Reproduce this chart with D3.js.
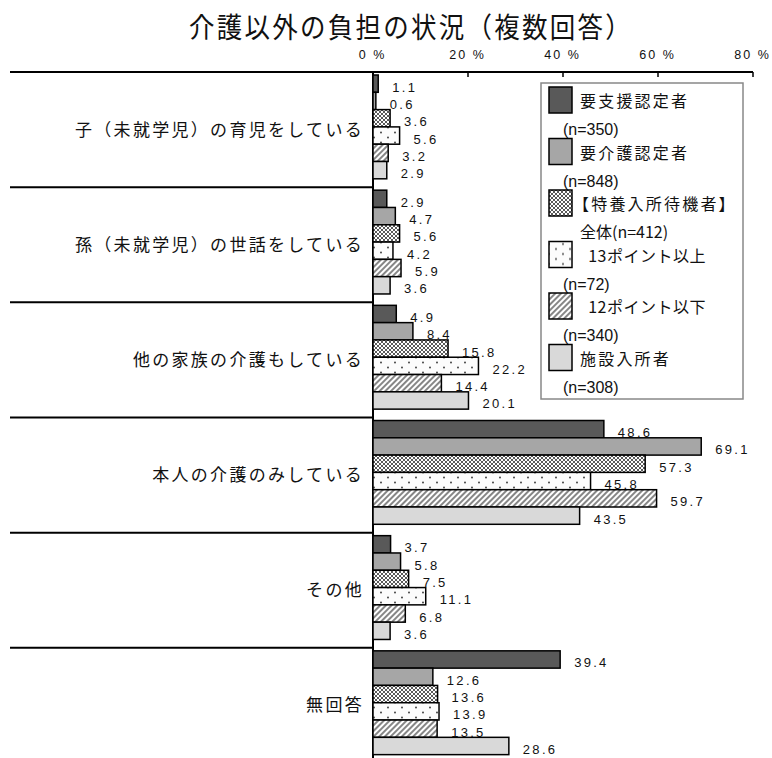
<!DOCTYPE html>
<html>
<head>
<meta charset="utf-8">
<script src="https://cdn.jsdelivr.net/npm/d3@7"></script>
<style>
  body { margin: 0; background: #fff; }
  svg { display: block; }
  .jp { font-family: "Noto Sans CJK JP", "Noto Sans", sans-serif; }
  .num { font-family: "Liberation Sans", Arial, sans-serif; }
</style>
</head>
<body>
<svg id="chart" width="772" height="758"></svg>
<script>
const categories = [
  '子（未就学児）の育児をしている',
  '孫（未就学児）の世話をしている',
  '他の家族の介護もしている',
  '本人の介護のみしている',
  'その他',
  '無回答'
];
const seriesNames = ['要支援認定者', '要介護認定者', '【特養入所待機者】', '  13ポイント以上', '  12ポイント以下', '施設入所者'];
const seriesSub = ['(n=350)', '(n=848)', '全体(n=412)', '(n=72)', '(n=340)', '(n=308)'];
const s1 = [1.1, 2.9, 4.9, 48.6, 3.7, 39.4];
const s2 = [0.6, 4.7, 8.4, 69.1, 5.8, 12.6];
const s3 = [3.6, 5.6, 15.8, 57.3, 7.5, 13.6];
const s4 = [5.6, 4.2, 22.2, 45.8, 11.1, 13.9];
const s5 = [3.2, 5.9, 14.4, 59.7, 6.8, 13.5];
const s6 = [2.9, 3.6, 20.1, 43.5, 3.6, 28.6];
const seriesValues = [s1, s2, s3, s4, s5, s6];
const xTicks = [0, 20, 40, 60, 80];

const fills = ['#595959', '#a6a6a6', 'url(#pat-cross)', 'url(#pat-dots)', 'url(#pat-diag)', '#d9d9d9'];

const svg = d3.select('#chart');
svg.append('rect').attr('width', 772).attr('height', 758).attr('fill', '#fff');

// patterns
const defs = svg.append('defs');
const cross = defs.append('pattern').attr('id', 'pat-cross')
  .attr('width', 4).attr('height', 4).attr('patternUnits', 'userSpaceOnUse');
cross.append('rect').attr('width', 4).attr('height', 4).attr('fill', '#fff');
cross.append('path').attr('d', 'M0,0 L4,4 M4,0 L0,4').attr('stroke', '#5a5a5a').attr('stroke-width', 1);

const dots = defs.append('pattern').attr('id', 'pat-dots')
  .attr('width', 14).attr('height', 10).attr('patternUnits', 'userSpaceOnUse');
dots.append('rect').attr('width', 14).attr('height', 10).attr('fill', '#fcfcfc');
dots.append('circle').attr('cx', 3).attr('cy', 2.5).attr('r', 0.9).attr('fill', '#333');
dots.append('circle').attr('cx', 10).attr('cy', 7.5).attr('r', 0.9).attr('fill', '#333');

const diag = defs.append('pattern').attr('id', 'pat-diag')
  .attr('width', 4).attr('height', 4).attr('patternUnits', 'userSpaceOnUse')
  .attr('patternTransform', 'rotate(45)');
diag.append('rect').attr('width', 4).attr('height', 4).attr('fill', '#fff');
diag.append('line').attr('x1', 1).attr('y1', 0).attr('x2', 1).attr('y2', 4)
  .attr('stroke', '#222').attr('stroke-width', 1.1);

// scales
const x = d3.scaleLinear().domain([0, 80]).range([373, 753]);
const y = d3.scaleBand().domain(categories).range([72, 763]).paddingInner(0).paddingOuter(0);
const barTop = 3, barH = 17.3;

// title (slightly condensed like the original)
svg.append('g').attr('transform', 'translate(411,38) scale(0.91,1)')
  .append('text').attr('class', 'jp')
  .attr('x', 0).attr('y', 0)
  .attr('text-anchor', 'middle')
  .attr('font-size', 28).attr('letter-spacing', 2.5)
  .attr('fill', '#111')
  .text('介護以外の負担の状況（複数回答）');

// top axis
svg.append('line').attr('x1', 10).attr('x2', x(80)).attr('y1', 72).attr('y2', 72)
  .attr('stroke', '#000').attr('stroke-width', 2);
svg.selectAll('.xtick').data(xTicks).join('line')
  .attr('x1', d => x(d)).attr('x2', d => x(d))
  .attr('y1', 72).attr('y2', 77)
  .attr('stroke', '#000').attr('stroke-width', 1.5);
svg.selectAll('.xlab').data(xTicks).join('text')
  .attr('class', 'num')
  .attr('x', d => x(d) - 0.5).attr('y', 59)
  .attr('text-anchor', 'middle')
  .attr('font-size', 12.5).attr('letter-spacing', 2)
  .attr('fill', '#111')
  .text(d => d + ' %');

// vertical axis
svg.append('line').attr('x1', 373).attr('x2', 373).attr('y1', 72).attr('y2', 758)
  .attr('stroke', '#000').attr('stroke-width', 2);

// separators
svg.selectAll('.sep').data(categories.slice(1)).join('line')
  .attr('x1', 10).attr('x2', 373)
  .attr('y1', d => y(d)).attr('y2', d => y(d))
  .attr('stroke', '#000').attr('stroke-width', 2);

// category labels
svg.selectAll('.cat').data(categories).join('text')
  .attr('class', 'jp')
  .attr('x', 364).attr('y', d => y(d) + y.bandwidth() / 2 + 6)
  .attr('text-anchor', 'end')
  .attr('font-size', 17).attr('letter-spacing', 2.3)
  .attr('fill', '#111')
  .text(d => d);

// bars
const barData = [];
categories.forEach((c, ci) => {
  seriesValues.forEach((vals, si) => {
    barData.push({ cat: c, si, v: vals[ci] });
  });
});
const yb = d => y(d.cat) + barTop + d.si * barH;

svg.append('g').selectAll('rect').data(barData).join('rect')
  .attr('x', x(0)).attr('y', yb)
  .attr('width', d => x(d.v) - x(0)).attr('height', barH)
  .attr('fill', d => fills[d.si])
  .attr('stroke', '#000').attr('stroke-width', 1.5);

svg.append('g').selectAll('text').data(barData).join('text')
  .attr('class', 'num')
  .attr('x', d => x(d.v) + 14).attr('y', d => yb(d) + barH / 2 + 8)
  .attr('font-size', 13).attr('letter-spacing', 2.3)
  .attr('fill', '#111')
  .text(d => d.v.toFixed(1));

// legend
const lg = svg.append('g');
lg.append('rect').attr('x', 541).attr('y', 83).attr('width', 202).attr('height', 316)
  .attr('fill', '#fff').attr('stroke', '#888').attr('stroke-width', 1.5);
const item = lg.selectAll('g').data(seriesNames).join('g')
  .attr('transform', (d, i) => `translate(0, ${87 + i * 51.5})`);
item.append('rect').attr('x', 549).attr('y', 0).attr('width', 23).attr('height', 26)
  .attr('fill', (d, i) => fills[i]).attr('stroke', '#000').attr('stroke-width', 1.5);
item.append('text').attr('class', 'jp')
  .attr('x', (d, i) => i === 2 ? 573 : 580).attr('y', 20)
  .attr('font-size', 16).attr('letter-spacing', (d, i) => i === 3 || i === 4 ? 0.5 : 2.2)
  .attr('fill', '#111')
  .attr('xml:space', 'preserve').style('white-space', 'pre')
  .text(d => d);
item.append('text').attr('class', (d, i) => i === 2 ? 'jp' : 'num')
  .attr('x', (d, i) => i === 2 ? 580 : 563).attr('y', 48)
  .attr('font-size', 16)
  .attr('fill', '#111')
  .text((d, i) => seriesSub[i]);
</script>
</body>
</html>
